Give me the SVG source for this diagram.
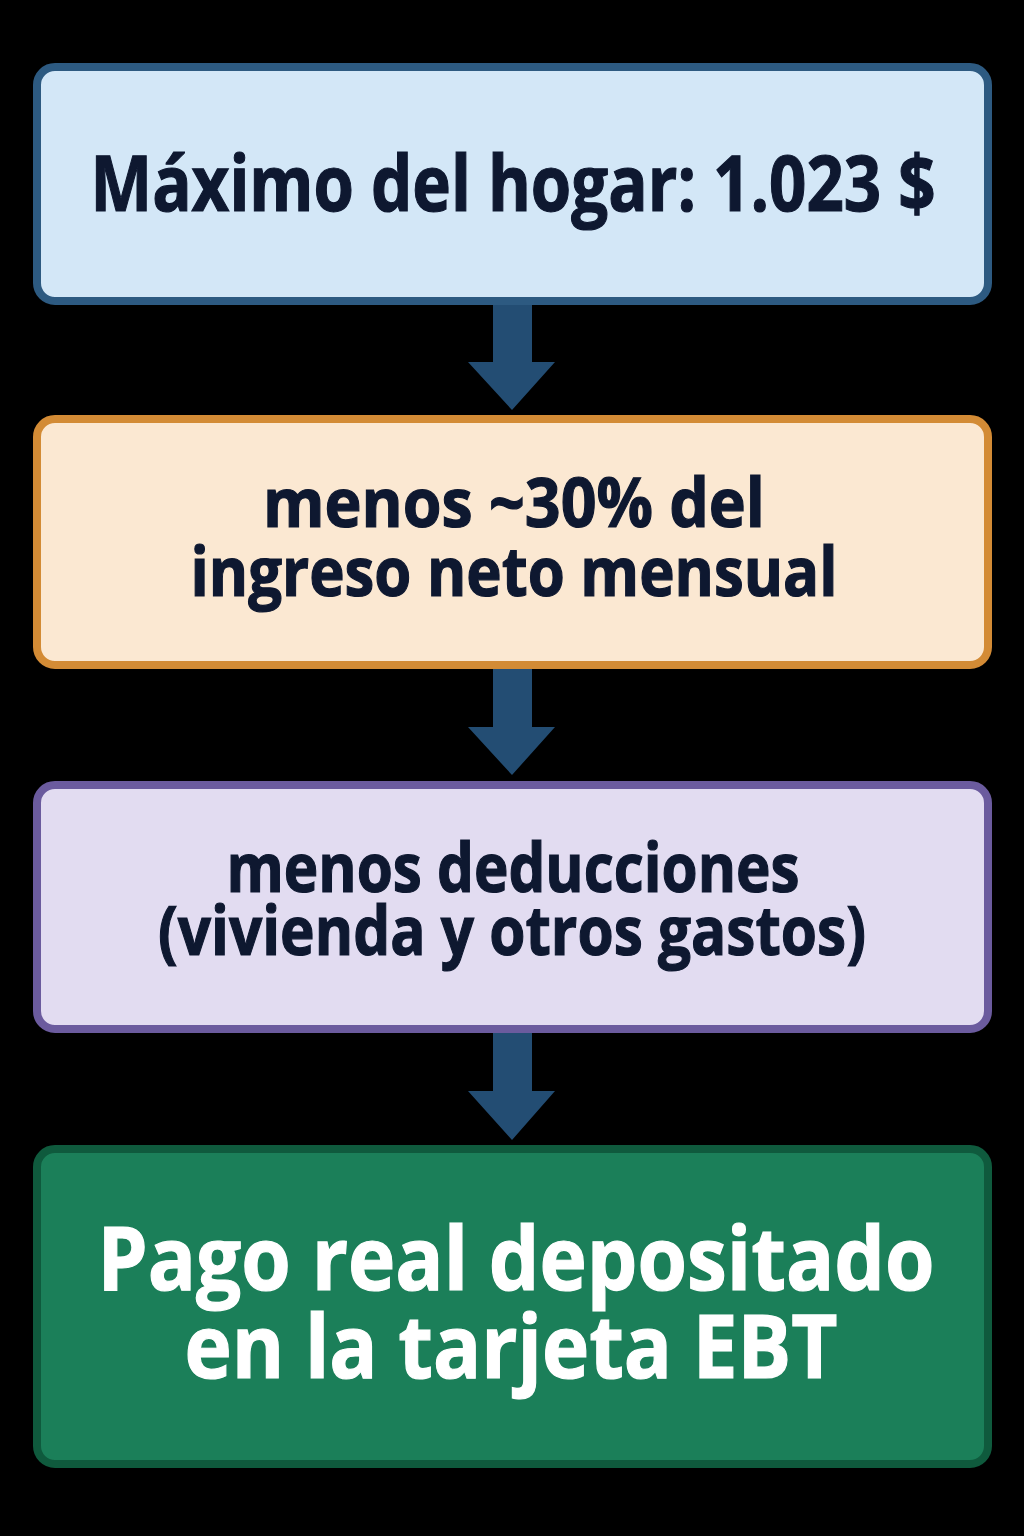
<svg xmlns="http://www.w3.org/2000/svg" width="1024" height="1536" viewBox="0 0 1024 1536">
<style>
.box{stroke-width:8}
.t{font-family:"Open Sans","Liberation Sans",sans-serif;font-weight:700;text-anchor:middle;fill:#0e1830;stroke:#0e1830;stroke-width:1.2}
.w{fill:#ffffff;stroke:#ffffff}
.arr{fill:#234d73}
</style>
<rect width="1024" height="1536" fill="#000000"/>
<g id="connectors">
<polygon class="arr" points="493,300 532,300 532,362 555,362 512,410 468,362 493,362"/>
<polygon class="arr" points="493,666 532,666 532,727 555,727 512,775 468,727 493,727"/>
<polygon class="arr" points="493,1031 532,1031 532,1091 555,1091 512,1140 468,1091 493,1091"/>
</g>
<g id="node1">
<rect class="box" x="37" y="67" width="951" height="234" rx="18" fill="#d3e7f7" stroke="#2d5a81"/>
<text class="t" x="513" y="211" font-size="77" textLength="845" lengthAdjust="spacingAndGlyphs">Máximo del hogar: 1.023 $</text>
</g>
<g id="node2">
<rect class="box" x="37" y="419" width="951" height="246" rx="18" fill="#fbe8d2" stroke="#d38b35"/>
<text class="t" x="514" y="527" font-size="68" textLength="502" lengthAdjust="spacingAndGlyphs">menos ~30% del</text>
<text class="t" x="514" y="596" font-size="68" textLength="647" lengthAdjust="spacingAndGlyphs">ingreso neto mensual</text>
</g>
<g id="node3">
<rect class="box" x="37" y="785" width="951" height="244" rx="18" fill="#e2dcf1" stroke="#6b5b9e"/>
<text class="t" x="513" y="892" font-size="68" textLength="573" lengthAdjust="spacingAndGlyphs">menos deducciones</text>
<text class="t" x="512" y="955" font-size="68" textLength="708" lengthAdjust="spacingAndGlyphs">(vivienda y otros gastos)</text>
</g>
<g id="node4">
<rect class="box" x="37" y="1149" width="951" height="315" rx="18" fill="#1b7f59" stroke="#0f5a3d"/>
<text class="t w" x="516" y="1290" font-size="88" textLength="837" lengthAdjust="spacingAndGlyphs">Pago real depositado</text>
<text class="t w" x="511" y="1378" font-size="88" textLength="653" lengthAdjust="spacingAndGlyphs">en la tarjeta EBT</text>
</g>
</svg>
